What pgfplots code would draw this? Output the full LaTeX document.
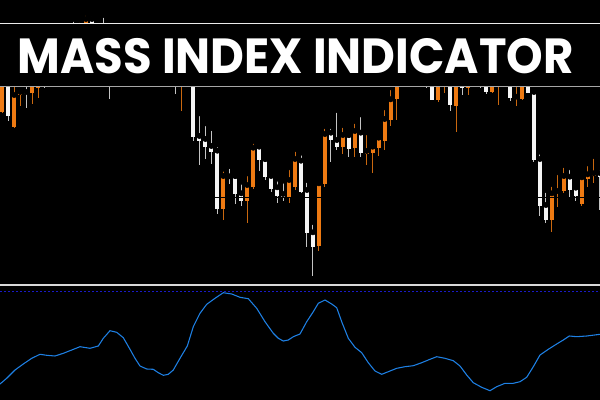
\documentclass[border=0pt]{standalone}
\usepackage{pgfplots}
\pgfplotsset{compat=1.18}
\usepackage{pgfplotstable}
\usepackage{graphicx}
\usepackage{fontspec}
\newfontfamily\poppins{Poppins}

\definecolor{bull}{RGB}{245,245,245}
\definecolor{bear}{RGB}{238,122,18}
\definecolor{mass}{RGB}{30,128,228}
\definecolor{level}{RGB}{25,25,200}
\definecolor{grid}{RGB}{115,115,125}

% candles: index, body top, body bottom, wick top, wick bottom (screen units, down is larger)
\pgfplotstableread{
k bt bb wt wb
1 70 116 65 120.7
4 92 94.3 80 108
7 70 85 65 88
8 55 72 50 76
10 40 58 35 62
11 30 42 28 46
12 30 45 19 50
15 19 36 14 40
17 30 50 15 55
18 55 80 40 99
20 45 60 40 66
22 40 55 35 60
25 50 68 45 72
27 48 62 44 68
29 60 80 55 94
31 50 75 45 85
32 60 137.3 55 140.7
33 136 140.7 113.3 165
34 139 147.3 123.3 158.7
35 146 152 128 164.3
36 150.7 209 144.3 214
38 176.3 177.7 166 184
39 176 194 176 204
40 193.3 200.7 181.7 206
43 146.7 160 143.3 170.7
44 159 177.3 159 180
45 176 189.3 172 191.7
46 187.3 196 178.7 203.3
47 194 196.7 180.7 200.7
50 160.7 191.7 152.7 193.3
51 190 232.7 180 246.7
52 232.3 246.7 222 275.7
55 132.7 140 126 162
56 140 147.3 110 150
58 135 149.3 135 156.7
60 132.7 153.3 114.3 156.7
68 50 70 45 78
70 40 55 35 62
71 60 80 55 88.3
72 70 100 65 100
75 65 105 60 111
77 60 88 55 95
79 60 80 55 85
80 70 84 65 88.3
81 75 91.7 70 94
85 70 98.3 65 100.7
88 75 92.7 70 93
89 92 160 89.3 161.7
90 159 206 151.7 216
91 205 220 190 223.3
95 176.7 190 167.3 197.3
96 187.7 196 184.3 200.7
100 173 177 167.3 210
}\upcandles

\pgfplotstableread{
k bt bb wt wb
0 60 111.7 55 113
2 95 127.3 80 127.5
3 92 95 90 106
5 70 92.7 65 104
6 80 88.3 75 98
9 55 65 48 70
13 28 40 20 45
14 19 35 13 40
16 28 45 25 50
19 50 65 45 70
21 45 58 40 62
23 42 60 38 66
24 55 70 50 75
26 52 66 48 70
28 55 75 50 80
30 55 80 50 111
37 176 208.7 168.7 220
41 185 200.7 173.3 222.7
42 147.7 187.3 141 189.3
48 180 196.7 167.3 202.7
49 159 187.3 149 190
53 183.3 245.7 182.3 250.7
54 134 184 126 186.7
57 135 147.3 125 154
59 131 147.7 121 156.7
61 151 153.7 132.3 165
62 146.7 152.7 145.7 173.3
63 137.7 147.7 136 156
64 119 140.7 107.3 150
65 99.3 120 87.3 126
66 80 99.3 70 120
67 60 80 55 85
69 45 60 40 68
73 70 100 65 101.7
74 60 80 55 92.7
76 60 105.7 55 131.7
78 70 88 65 95
82 75 91.7 70 93.3
83 70 85 65 105
84 60 80 55 85
86 96.7 98.7 80 106
87 75 99 70 100
92 193.3 220 184 231.7
93 191 193.3 172.3 206.7
94 176 191 165 193.3
97 177.3 204 172.3 206
98 174.3 179.3 163.3 187.3
99 173.3 176 156 182.7
}\downcandles

% mass index line
\pgfplotstableread{
x y
0 384
6.7 378.3
15 370
23.3 364
31.7 358.3
40 354.3
46.7 355.3
55 356
63.3 353.3
71.7 350
80 346.7
90 348.3
98.3 346
103.3 338.3
110 330.7
116.7 332.3
123.3 337.7
130 349.3
135 358.3
140 366
146.7 369
153.3 369.3
158.3 372.7
163.3 375.3
168.3 374.3
173.3 370
180 358.3
187.3 346
193.3 326.7
200 313.3
206.7 304.3
215 298.3
223.3 292.7
231.7 294
240 297.3
248.3 298.7
256.7 308.3
265 321.7
273.3 333.3
278.3 338.3
283.3 341
288.3 340
293.3 336.7
300 334
306.7 321.7
313.3 311.7
318.3 303.3
325 300
331.7 304
336.7 307.7
341.7 321.7
348.3 338.3
355 347.3
361.7 352.7
368.3 362.7
375 371
381.7 374.3
388.3 371.7
396.7 368.3
405 366.7
413.3 365.7
421.7 362.7
430 359.3
436.7 356.7
445 358.3
453.3 360.7
460 366
466.7 375
473.3 382.7
481.7 387.3
490 390.7
496.7 386.7
505 383.3
513.3 383.3
520 381.7
526.7 377.3
533.3 366.7
540 355
548.3 349.3
556.7 344
563.3 340
569.3 336
576.7 336.7
586.7 336
600 334.3
}\massindex

\pgfplotsset{
  panel/.style={scale only axis, width=450pt, height=300pt,
    at={(0,0)}, anchor=south west, axis lines=none, ticks=none,
    ymin=0, ymax=400, y dir=reverse},
  wick/.style={only marks, mark=none, error bars/.cd, y dir=plus, y explicit,
    error mark=none, error bar style={line width=0.75pt, draw=#1}},
  body/.style={only marks, mark=none, error bars/.cd, y dir=plus, y explicit,
    error mark=none, error bar style={line width=3pt, draw=#1}},
}

\begin{document}
\begin{tikzpicture}
\fill[black] (0,0) rectangle (450pt,300pt);

\begin{axis}[panel, xmin=-0.385, xmax=100.05]
\addplot[wick=bull!80!black] table[x=k, y=wt, y error expr=\thisrow{wb}-\thisrow{wt}] {\upcandles};
\addplot[wick=bear!85!black] table[x=k, y=wt, y error expr=\thisrow{wb}-\thisrow{wt}] {\downcandles};
\addplot[body=bull] table[x=k, y=bt, y error expr=\thisrow{bb}-\thisrow{bt}] {\upcandles};
\addplot[body=bear] table[x=k, y=bt, y error expr=\thisrow{bb}-\thisrow{bt}] {\downcandles};
\end{axis}

\begin{axis}[panel, xmin=0, xmax=600]
% price grid line and panel separator
\addplot[grid, line width=0.75pt] coordinates {(0,197.3) (600,197.3)};
\addplot[black, line width=3pt] coordinates {(0,287) (600,287)};
\addplot[white!85!black, line width=1.5pt] coordinates {(0,284.5) (600,284.5)};
% indicator panel
\addplot[level, line width=0.75pt, dash pattern=on 1.5pt off 1.5pt] coordinates {(0,291) (600,291)};
\addplot[mass, line width=0.8pt] table[x=x, y=y] {\massindex};
% title banner
\fill[black] (axis cs:0,23.3) rectangle (axis cs:600,86.7);
\draw[white!92!black, line width=1.3pt] (axis cs:0,23.5) -- (axis cs:600,23.5);
\draw[white!65!black, line width=1.1pt] (axis cs:0,86.6) -- (axis cs:600,86.6);
\node[white, inner sep=0pt] at (axis cs:295.8,56.2)
  {\scalebox{0.944}[1]{\poppins\bfseries\fontsize{37}{37}\selectfont MASS INDEX INDICATOR}};
\end{axis}

\pgfresetboundingbox
\path (0,0) rectangle (450pt,300pt);
\end{tikzpicture}
\end{document}
